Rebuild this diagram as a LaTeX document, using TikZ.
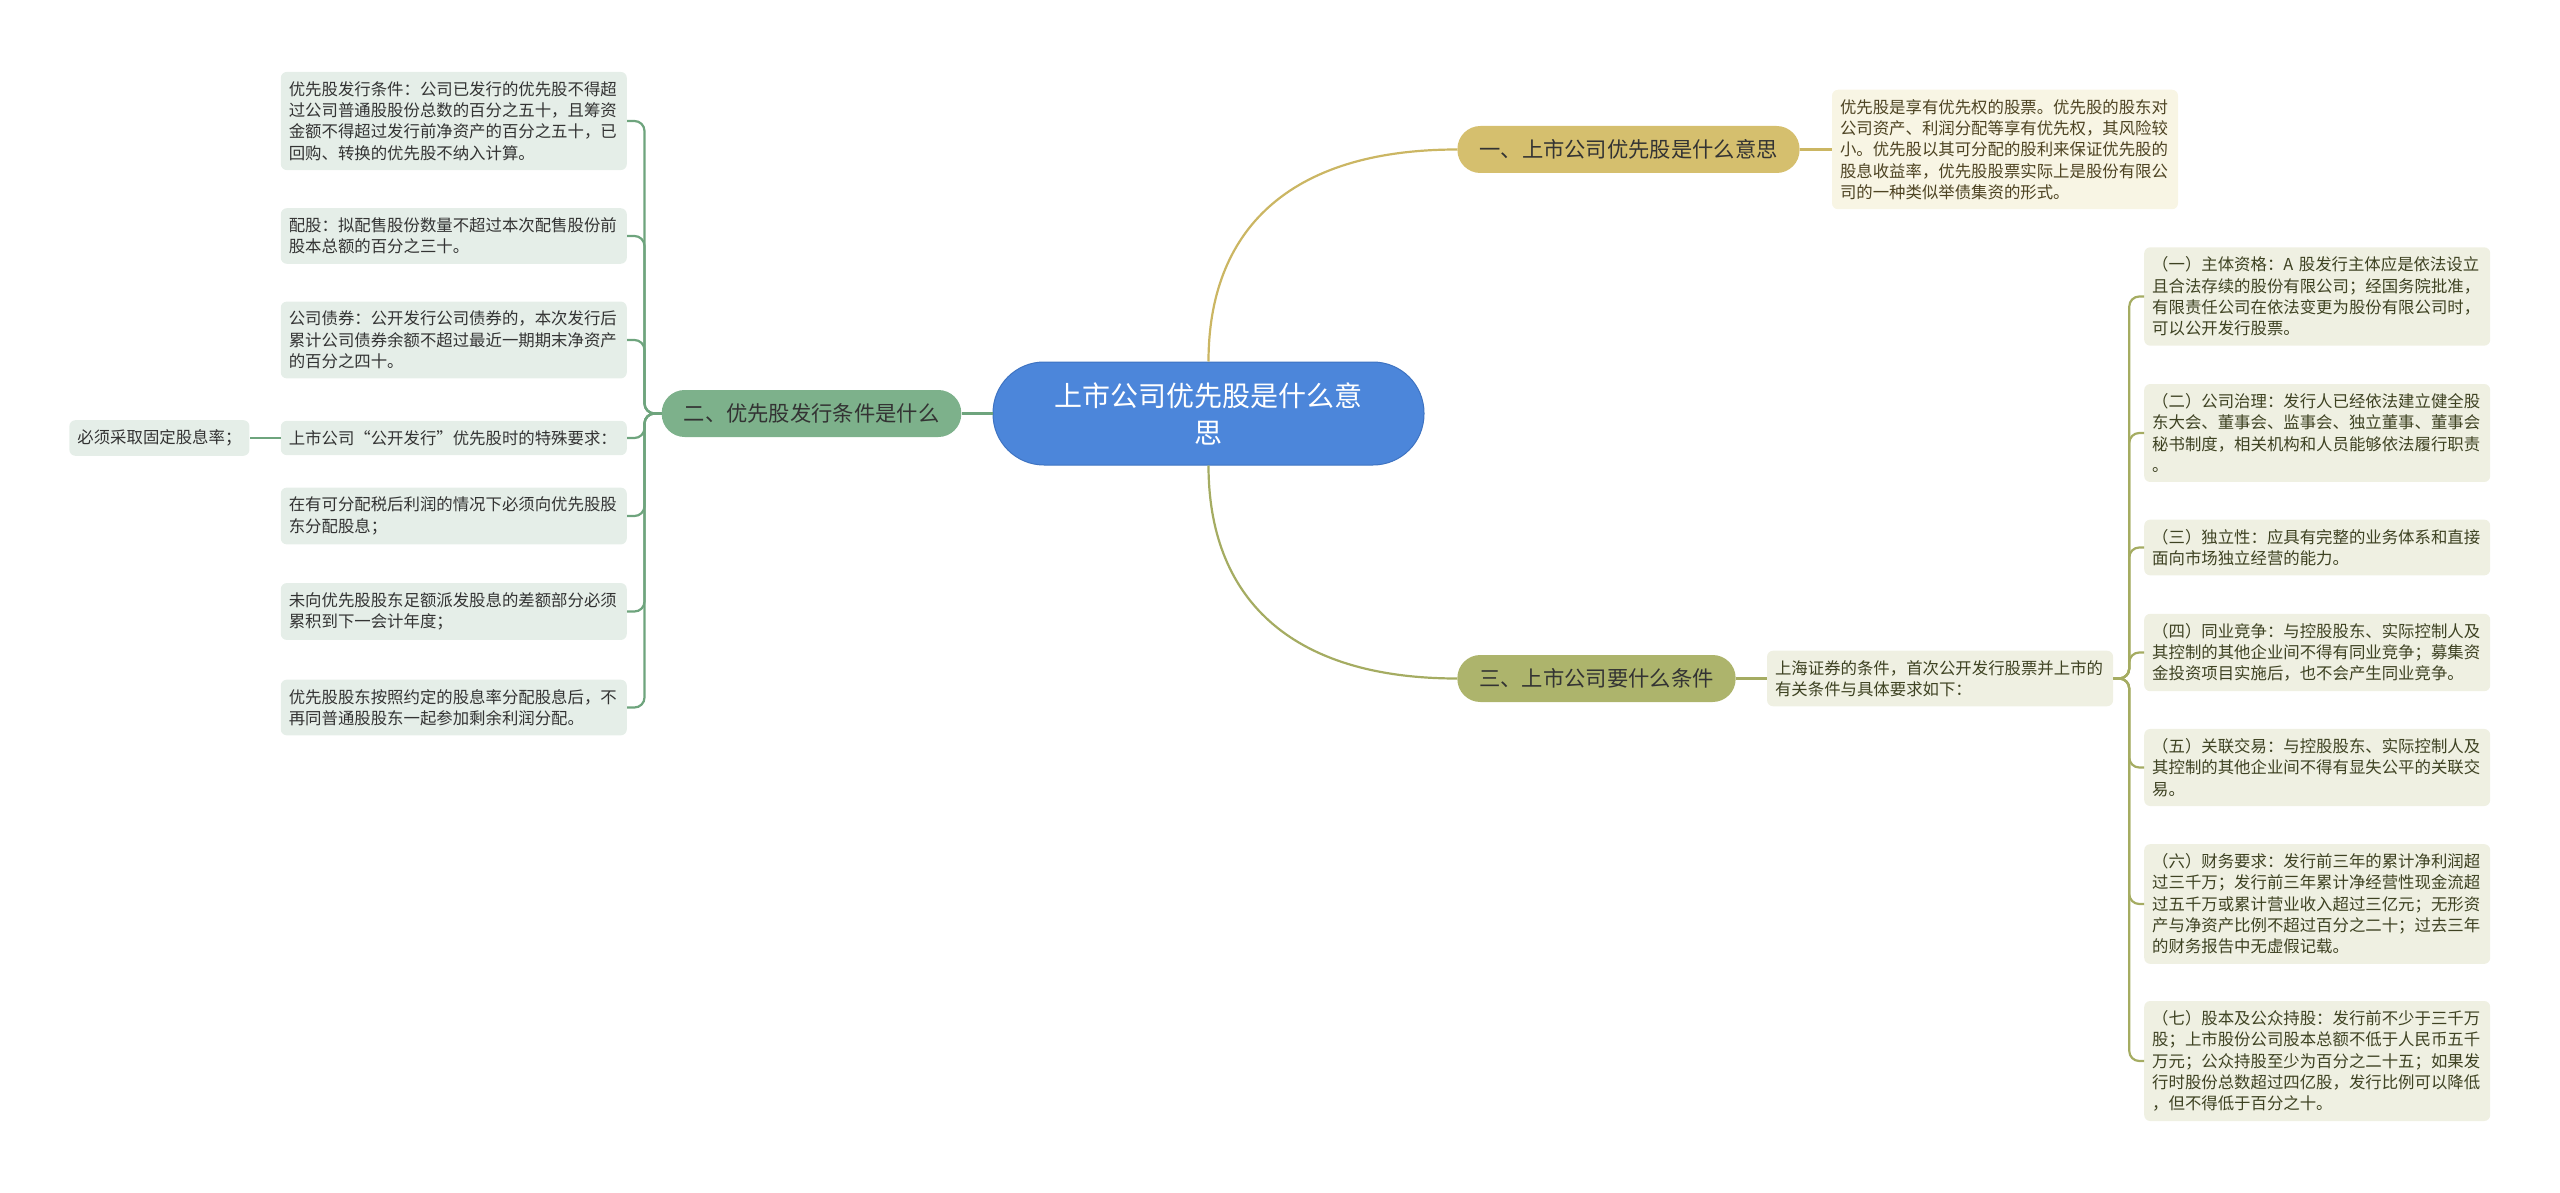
\documentclass[tikz,border=0pt]{standalone}
\usepackage{fontspec}
\usetikzlibrary{positioning}
\newfontfamily\cjk{Noto Sans CJK SC}
\definecolor{rootblue}{HTML}{4C86DA}
\definecolor{rootedge}{HTML}{3E73C2}
\definecolor{goldfill}{HTML}{D5BF6E}
\definecolor{goldline}{HTML}{CBB663}
\definecolor{goldleaf}{HTML}{F8F5E4}
\definecolor{goldtext}{HTML}{4D4322}
\definecolor{olivefill}{HTML}{ADB46C}
\definecolor{oliveline}{HTML}{A5AC62}
\definecolor{oliveleaf}{HTML}{EFF0E2}
\definecolor{olivetext}{HTML}{3E4222}
\definecolor{greenfill}{HTML}{7DB18B}
\definecolor{greenline}{HTML}{6EA47D}
\definecolor{greenleaf}{HTML}{E5EEE8}
\definecolor{textdark}{HTML}{333333}
\newcommand{\leaffont}{\fontsize{16.4pt}{21.3pt}\selectfont}

\begin{document}
\begin{tikzpicture}[x=1pt, y=-1pt, font=\cjk,
  rootbox/.style={draw=rootedge, line width=1pt, fill=rootblue, text=white, rounded corners=51pt, minimum height=103pt, inner xsep=58pt, text width=315pt, align=center, font=\cjk\fontsize{28pt}{37pt}\selectfont},
  branchbox/.style={rounded corners=23pt, minimum height=47pt, inner xsep=22pt, text=textdark, font=\cjk\fontsize{21.3pt}{26pt}\selectfont},
  leafbase/.style={rounded corners=6pt, inner xsep=8pt, inner ysep=9.5pt, align=left, font=\cjk\leaffont},
  leafbox/.style={leafbase, text width=330pt},
  goldleafbox/.style={leafbox, fill=goldleaf, text=goldtext},
  oliveleafbox/.style={leafbox, fill=oliveleaf, text=olivetext},
  greenleafbox/.style={leafbox, fill=greenleaf, text=textdark},
  link/.style={line width=2.2pt}]
  \useasboundingbox (0,0) rectangle (2560,1193);

  \node[rootbox] (root) at (1208.5,413.5) {上市公司优先股是什么意\\思};
  \node[branchbox, fill=goldfill] (meaning) at (1628.5,149.5) {一、上市公司优先股是什么意思};
  \node[branchbox, fill=olivefill] (listing) at (1596.5,678.5) {三、上市公司要什么条件};
  \node[branchbox, fill=greenfill, left=31pt of root] (issue) {二、优先股发行条件是什么};

  \node[goldleafbox, right=32pt of meaning] (meandesc) {优先股是享有优先权的股票。优先股的股东对\\公司资产、利润分配等享有优先权，其风险较\\小。优先股以其可分配的股利来保证优先股的\\股息收益率，优先股股票实际上是股份有限公\\司的一种类似举债集资的形式。};
  \node[oliveleafbox, right=31pt of listing] (listintro) {上海证券的条件，首次公开发行股票并上市的\\有关条件与具体要求如下：};

  \node[greenleafbox, anchor=east] (iss1) at (627,121) {优先股发行条件：公司已发行的优先股不得超\\过公司普通股股份总数的百分之五十，且筹资\\金额不得超过发行前净资产的百分之五十，已\\回购、转换的优先股不纳入计算。};
  \node[greenleafbox, anchor=east] (iss2) at (627,236) {配股：拟配售股份数量不超过本次配售股份前\\股本总额的百分之三十。};
  \node[greenleafbox, anchor=east] (iss3) at (627,340) {公司债券：公开发行公司债券的，本次发行后\\累计公司债券余额不超过最近一期期末净资产\\的百分之四十。};
  \node[greenleafbox, anchor=east] (iss4) at (627,438) {上市公司“公开发行”优先股时的特殊要求：};
  \node[leafbase, fill=greenleaf, text=textdark, left=31pt of iss4] (fixrate) {必须采取固定股息率；};
  \node[greenleafbox, anchor=east] (iss5) at (627,516) {在有可分配税后利润的情况下必须向优先股股\\东分配股息；};
  \node[greenleafbox, anchor=east] (iss6) at (627,611.5) {未向优先股股东足额派发股息的差额部分必须\\累积到下一会计年度；};
  \node[greenleafbox, anchor=east] (iss7) at (627,707.5) {优先股股东按照约定的股息率分配股息后，不\\再同普通股股东一起参加剩余利润分配。};

  \node[oliveleafbox, anchor=west] (req1) at (2144,296.5) {（一）主体资格：A 股发行主体应是依法设立\\且合法存续的股份有限公司；经国务院批准，\\有限责任公司在依法变更为股份有限公司时，\\可以公开发行股票。};
  \node[oliveleafbox, anchor=west] (req2) at (2144,433) {（二）公司治理：发行人已经依法建立健全股\\东大会、董事会、监事会、独立董事、董事会\\秘书制度，相关机构和人员能够依法履行职责\\。};
  \node[oliveleafbox, anchor=west] (req3) at (2144,547.5) {（三）独立性：应具有完整的业务体系和直接\\面向市场独立经营的能力。};
  \node[oliveleafbox, anchor=west] (req4) at (2144,652.5) {（四）同业竞争：与控股股东、实际控制人及\\其控制的其他企业间不得有同业竞争；募集资\\金投资项目实施后，也不会产生同业竞争。};
  \node[oliveleafbox, anchor=west] (req5) at (2144,767.5) {（五）关联交易：与控股股东、实际控制人及\\其控制的其他企业间不得有显失公平的关联交\\易。};
  \node[oliveleafbox, anchor=west] (req6) at (2144,904) {（六）财务要求：发行前三年的累计净利润超\\过三千万；发行前三年累计净经营性现金流超\\过五千万或累计营业收入超过三亿元；无形资\\产与净资产比例不超过百分之二十；过去三年\\的财务报告中无虚假记载。};
  \node[oliveleafbox, anchor=west] (req7) at (2144,1061) {（七）股本及公众持股：发行前不少于三千万\\股；上市股份公司股本总额不低于人民币五千\\万元；公众持股至少为百分之二十五；如果发\\行时股份总数超过四亿股，发行比例可以降低\\，但不得低于百分之十。};

  \draw[link, goldline] (root.north) .. controls +(0,-130) and +(-170,0) .. (meaning.west);
  \draw[link, oliveline] (root.south) .. controls +(0,130) and +(-170,0) .. (listing.west);
  \draw[link, greenline] (root.west) -- (issue.east);
  \draw[link, goldline] (meaning.east) -- (meandesc.west);
  \draw[link, oliveline] (listing.east) -- (listintro.west);
  \draw[link, greenline] (iss4.west) -- (fixrate.east);
  \foreach \n in {iss1,iss2,iss3,iss4,iss5,iss6,iss7}
    \draw[link, greenline, rounded corners=10pt] (issue.west) -- ++(-17,0) |- (\n.east);
  \foreach \n in {req1,req2,req3,req4,req5,req6,req7}
    \draw[link, oliveline, rounded corners=10pt] (listintro.east) -- ++(16,0) |- (\n.west);
\end{tikzpicture}
\end{document}
